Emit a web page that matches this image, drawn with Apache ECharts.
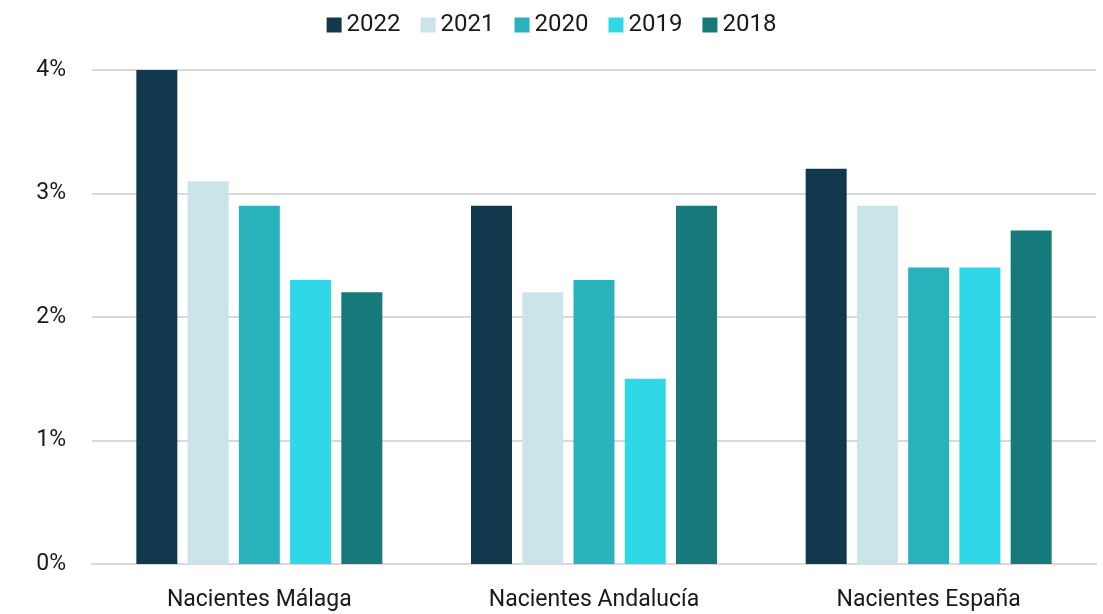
<!DOCTYPE html>
<html>
<head>
<meta charset="utf-8">
<script src="https://cdn.jsdelivr.net/npm/echarts@6/dist/echarts.min.js"></script>
<style>
  html, body { margin: 0; padding: 0; background: #fff; }
  #chart { width: 1103px; height: 614px; }
</style>
</head>
<body>
<div id="chart"></div>
<script>
var categories = ['Nacientes Málaga', 'Nacientes Andalucía', 'Nacientes España'];
var years = ['2022', '2021', '2020', '2019', '2018'];
var v2022 = [4.0, 2.9, 3.2];
var v2021 = [3.1, 2.2, 2.9];
var v2020 = [2.9, 2.3, 2.4];
var v2019 = [2.3, 1.5, 2.4];
var v2018 = [2.2, 2.9, 2.7];
var yTicks = [0, 1, 2, 3, 4];

var values = [v2022, v2021, v2020, v2019, v2018];
var colors = ['#12384d', '#cbe4e9', '#2ab2bc', '#2fd8e6', '#177a7a'];
var font = 'Roboto, "DejaVu Sans", sans-serif';

var chart = echarts.init(document.getElementById('chart'));

var series = years.map(function (y, i) {
    return {
        name: y,
        type: 'bar',
        data: values[i],
        barWidth: 41,
        barGap: '25%',
        itemStyle: { color: colors[i] }
    };
});

chart.setOption({
    animation: false,
    textStyle: { fontFamily: font },
    legend: {
        top: 8,
        left: 'center',
        itemWidth: 15,
        itemHeight: 15,
        itemGap: 20,
        icon: 'rect',
        textStyle: { fontSize: 24, color: '#1a1a1a', fontFamily: font },
        data: years
    },
    grid: { left: 92, right: 7, top: 70, bottom: 50 },
    xAxis: {
        type: 'category',
        data: categories,
        axisLine: { lineStyle: { color: '#d9d9d9', width: 2 } },
        axisTick: { show: false },
        axisLabel: { fontSize: 23, color: '#1a1a1a', margin: 25 }
    },
    yAxis: {
        type: 'value',
        min: yTicks[0],
        max: yTicks[yTicks.length - 1],
        interval: 1,
        axisLine: { show: false },
        axisTick: { show: false },
        splitLine: { lineStyle: { color: '#d9d9d9', width: 2 } },
        axisLabel: {
            fontSize: 23,
            color: '#1a1a1a',
            margin: 26,
            formatter: function (v) { return v + '%'; }
        }
    },
    series: series
});
</script>
</body>
</html>
